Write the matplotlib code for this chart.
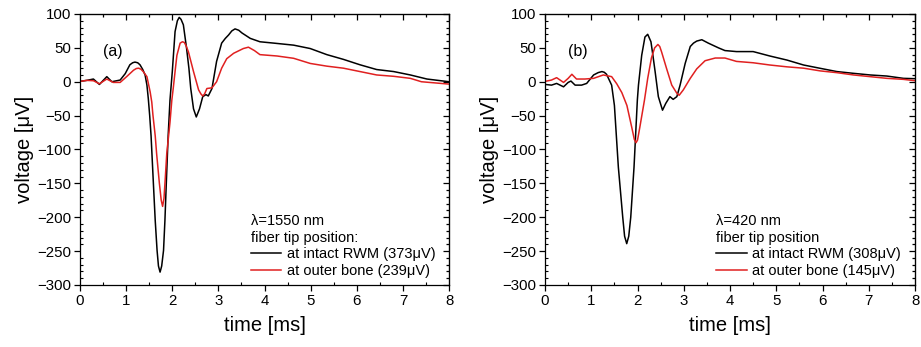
import matplotlib
matplotlib.use("Agg")
import matplotlib.pyplot as plt
from matplotlib.ticker import MultipleLocator

plt.rcParams['font.family'] = ['Liberation Sans', 'DejaVu Sans']

# --- (a) 1550 nm ---
t_a_rwm = [0, 0.145, 0.29, 0.42, 0.51, 0.58, 0.69, 0.87, 0.98, 1.08, 1.14, 1.19, 1.25, 1.30,
           1.36, 1.41, 1.45, 1.48, 1.51, 1.54, 1.59, 1.63, 1.67, 1.70, 1.735, 1.77, 1.81,
           1.84, 1.87, 1.91, 1.95, 2.0, 2.06, 2.11, 2.15, 2.19, 2.24, 2.31, 2.36, 2.40,
           2.46, 2.52, 2.59, 2.66, 2.73, 2.78, 2.86, 2.96, 3.07, 3.15, 3.22, 3.29, 3.36,
           3.44, 3.51, 3.69, 3.9, 4.2, 4.63, 4.99, 5.35, 5.71, 6.07, 6.43, 6.8, 7.16,
           7.52, 8.0]
v_a_rwm = [0.5, 2, 4, -4, 2.5, 7.5, 0, 2.5, 12, 25, 28, 29, 28, 25,
           18, 10, -5, -25, -50, -80, -150, -205, -249, -272, -281, -272, -249,
           -205, -150, -80, -27, 15, 74, 90, 95, 92, 84, 49, 20, -10,
           -40, -52, -40, -22, -19, -21, -10, 30, 57, 64, 69, 75, 78,
           76, 72, 64, 59, 57, 54, 49, 40, 33, 25, 18, 15, 10,
           4, 0]

t_a_bone = [0, 0.145, 0.29, 0.42, 0.58, 0.72, 0.87, 1.01, 1.16, 1.22, 1.27, 1.32, 1.37, 1.45,
            1.52, 1.555, 1.58, 1.63, 1.66, 1.72, 1.76, 1.79, 1.82, 1.85, 1.88, 1.95,
            1.99, 2.02, 2.06, 2.10, 2.17, 2.22, 2.26, 2.30, 2.35, 2.46, 2.57, 2.62, 2.66,
            2.70, 2.75, 2.86, 2.96, 3.07, 3.18, 3.33, 3.54, 3.65, 3.78, 3.9, 4.27, 4.63,
            4.99, 5.35, 5.71, 6.07, 6.43, 6.8, 7.16, 7.4, 8.0]
v_a_bone = [0.5, 2, 1.5, -3, 4, -1, -1, 7.5, 17, 19.5, 20, 18.5, 15, 7.5,
            -15, -30, -49, -80, -106, -150, -175, -184, -172, -140, -106, -60,
            -27, -10, 15, 39, 57, 59, 58, 53, 44, 15, -12, -18, -21,
            -18, -10, -9, 0, 20, 34, 42, 49, 51, 46, 40, 38, 34.6,
            27, 23, 20, 15, 10, 8, 5, 0, -3.5]

# --- (b) 420 nm ---
t_b_rwm = [0, 0.14, 0.25, 0.40, 0.50, 0.56, 0.65, 0.79, 0.90, 1.05, 1.15, 1.23, 1.28, 1.33,
           1.44, 1.50, 1.585, 1.68, 1.72, 1.766, 1.81, 1.853, 1.924, 1.996, 2.02, 2.09,
           2.16, 2.22, 2.29, 2.33, 2.38, 2.45, 2.54, 2.61, 2.70, 2.77, 2.85, 2.92, 3.03,
           3.14, 3.21, 3.28, 3.39, 3.53, 3.75, 3.89, 4.14, 4.5, 4.86, 5.23, 5.59, 5.95,
           6.31, 6.67, 7.03, 7.39, 7.75, 8.0]
v_b_rwm = [-4, -5, -2.5, -7.5, -1, 1, -5, -5, -2.5, 10, 13.5, 15, 14, 11,
           -5, -35, -126, -200, -228, -239, -228, -200, -126, -27, -5, 39,
           66, 70, 59, 40, 15, -22, -42, -32, -22, -26, -22, -5, 27,
           52, 57, 60, 62, 57, 50, 46, 44.5, 44.5, 38, 32, 24.7, 19.8,
           15, 12.4, 10, 8.4, 5, 4.5]

t_b_bone = [0, 0.14, 0.25, 0.40, 0.50, 0.58, 0.68, 0.86, 1.05, 1.26, 1.44, 1.55, 1.66,
            1.77, 1.874, 1.93, 1.968, 2.0, 2.05, 2.15, 2.22, 2.30, 2.37, 2.44, 2.48,
            2.52, 2.63, 2.74, 2.85, 2.90, 2.99, 3.14, 3.28, 3.46, 3.68, 3.89, 4.14,
            4.5, 4.86, 5.23, 5.59, 5.95, 6.31, 6.67, 7.03, 7.39, 7.75, 8.0]
v_b_bone = [0.5, 2.5, 6, -1, 5, 11, 4, 4, 5, 10, 7.5, -3, -16,
            -35, -67, -85, -90, -86, -67, -27, 5, 35, 50, 55, 52,
            44, 19, -5, -17, -20, -12, 5, 19, 31, 35, 35, 30,
            28, 24.7, 22, 20, 16, 13.4, 10, 7.5, 5, 3.5, 1.5]

panels = [
    dict(tag='(a)', head='λ=1550 nm\nfiber tip position:',
         rwm=(t_a_rwm, v_a_rwm), bone=(t_a_bone, v_a_bone),
         labels=['at intact RWM (373μV)', 'at outer bone (239μV)']),
    dict(tag='(b)', head='λ=420 nm\nfiber tip position',
         rwm=(t_b_rwm, v_b_rwm), bone=(t_b_bone, v_b_bone),
         labels=['at intact RWM (308μV)', 'at outer bone (145μV)']),
]

fig = plt.figure(figsize=(9.21, 3.47), dpi=100)
ax_pos = [[0.0869, 0.1787, 0.4007, 0.781], [0.5918, 0.1787, 0.4017, 0.781]]

for pos, p in zip(ax_pos, panels):
    ax = fig.add_axes(pos)
    ax.plot(*p['rwm'], color='black', lw=1.1, label=p['labels'][0])
    ax.plot(*p['bone'], color='#e02020', lw=1.1, label=p['labels'][1])

    ax.set_xlim(0, 8)
    ax.set_ylim(-300, 100)
    ax.xaxis.set_major_locator(MultipleLocator(1))
    ax.xaxis.set_minor_locator(MultipleLocator(0.5))
    ax.yaxis.set_major_locator(MultipleLocator(50))
    ax.yaxis.set_minor_locator(MultipleLocator(10))

    for s in ax.spines.values():
        s.set_linewidth(0.9)
    ax.tick_params(which='major', direction='out', length=4, width=0.9,
                   labelsize=10.8, pad=2.5)
    ax.tick_params(which='minor', direction='in', length=2.5, width=0.8)
    # mirrored ticks on the top and right spines point inward
    ax2 = ax.secondary_xaxis('top')
    ax2.xaxis.set_major_locator(MultipleLocator(1))
    ax2.xaxis.set_minor_locator(MultipleLocator(0.5))
    ax2.tick_params(which='both', direction='in', labeltop=False, width=0.9)
    ax2.tick_params(which='major', length=4)
    ax2.tick_params(which='minor', length=2.5)
    ax3 = ax.secondary_yaxis('right')
    ax3.yaxis.set_major_locator(MultipleLocator(50))
    ax3.yaxis.set_minor_locator(MultipleLocator(10))
    ax3.tick_params(which='both', direction='in', labelright=False, width=0.9)
    ax3.tick_params(which='major', length=4)
    ax3.tick_params(which='minor', length=2.5)

    ax.set_xlabel('time [ms]', fontsize=14.5, labelpad=6)
    ax.set_ylabel('voltage [μV]', fontsize=14.5, labelpad=2)

    ax.text(0.063, 0.86, p['tag'], transform=ax.transAxes, fontsize=11.5,
            va='center', ha='left')

    leg = ax.legend(loc='lower left', bbox_to_anchor=(0.462, 0.025),
                    frameon=False, fontsize=10.5, title=p['head'],
                    title_fontsize=10.5, alignment='left', borderpad=0,
                    borderaxespad=0, handlelength=2.1, handletextpad=0.4,
                    labelspacing=0.2)
    leg._legend_box.sep = 2

fig.savefig('out.png', dpi=100)
